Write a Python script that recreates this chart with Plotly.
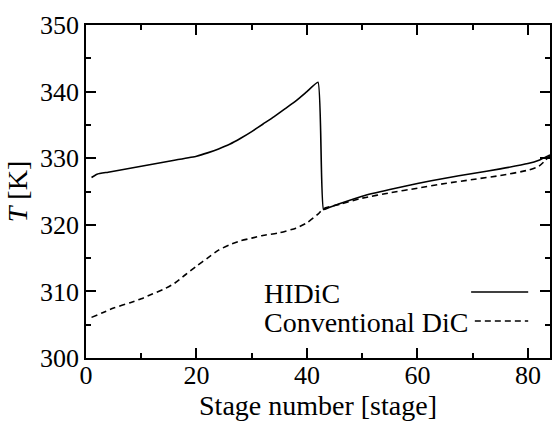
import plotly.graph_objects as go

hidic_stage = [1, 2, 4, 8, 12, 16, 20, 22, 24, 26, 28, 30, 32, 34, 36, 38, 40, 42, 43, 44, 46, 50, 55, 60,
               65, 70, 75, 80, 82, 84]
hidic_T = [327.1, 327.6, 327.9, 328.5, 329.1, 329.7, 330.3, 330.8, 331.4, 332.1, 333.0, 334.0, 335.1,
           336.2, 337.4, 338.6, 340.0, 341.4, 322.3, 322.6, 323.2, 324.3, 325.3, 326.2, 327.0, 327.7,
           328.4, 329.2, 329.7, 330.5]

conv_stage = [1, 3, 5, 8, 10, 12, 14, 16, 18, 20, 22, 24, 26, 28, 30, 32, 35, 38, 40, 42, 43, 46, 50,
              55, 60, 65, 70, 75, 80, 82, 84]
conv_T = [306.1, 306.8, 307.5, 308.3, 308.9, 309.6, 310.3, 311.2, 312.5, 313.8, 315.0, 316.2, 317.0,
          317.6, 318.0, 318.4, 318.8, 319.5, 320.3, 321.6, 322.4, 323.1, 324.0, 324.8, 325.5, 326.2,
          326.8, 327.4, 328.2, 328.8, 330.4]

legend_labels = ["HIDiC", "Conventional DiC"]

FONT = "Liberation Serif, Times New Roman, serif"

fig = go.Figure()
fig.add_trace(go.Scatter(x=hidic_stage, y=hidic_T, mode="lines", name=legend_labels[0],
                         line=dict(color="black", width=1.6, shape="spline", smoothing=0.4)))
fig.add_trace(go.Scatter(x=conv_stage, y=conv_T, mode="lines", name=legend_labels[1],
                         line=dict(color="black", width=1.6, dash="6px,4px", shape="spline", smoothing=0.6)))

axis_common = dict(
    showgrid=False, zeroline=False, showline=True, linecolor="black", linewidth=1.5,
    mirror="ticks", ticks="inside", tickcolor="black", tickwidth=1.5, ticklen=10,
    tickfont=dict(family=FONT, size=26, color="black"),
)
fig.update_xaxes(range=[0, 84], dtick=20, tick0=0, ticklabelstandoff=-7,
                 minor=dict(dtick=10, ticks="inside", ticklen=5, tickcolor="black", tickwidth=1.5),
                 title=dict(text="Stage number [stage]", font=dict(family=FONT, size=28, color="black"),
                            standoff=6),
                 **axis_common)
fig.update_yaxes(range=[300, 350], dtick=10, tick0=300,
                 minor=dict(dtick=5, ticks="inside", ticklen=5, tickcolor="black", tickwidth=1.5),
                 title=dict(text="<i>T</i> [K]", font=dict(family=FONT, size=28, color="black"),
                            standoff=4),
                 **axis_common)

# legend drawn with text on the left and line sample on the right
leg_y = [0.195, 0.108]
for lab, yy in zip(legend_labels, leg_y):
    fig.add_annotation(x=0.38, y=yy, xref="paper", yref="paper", text=lab, showarrow=False,
                       xanchor="left", yanchor="middle", font=dict(family=FONT, size=28, color="black"))
fig.add_shape(type="line", xref="paper", yref="paper", x0=0.830, x1=0.953, y0=leg_y[0] + 0.003,
              y1=leg_y[0] + 0.003, line=dict(color="black", width=1.6))
fig.add_shape(type="line", xref="paper", yref="paper", x0=0.838, x1=0.953, y0=leg_y[1] + 0.003,
              y1=leg_y[1] + 0.003, line=dict(color="black", width=1.6, dash="6px,4px"))

fig.update_layout(
    width=553, height=423, showlegend=False,
    margin=dict(l=86, r=1, t=25, b=65),
    paper_bgcolor="white", plot_bgcolor="white",
    font=dict(family=FONT, color="black"),
)
fig.write_html("out.html", config={"displayModeBar": False},
               post_script="document.body.style.margin='0';document.body.style.overflow='hidden';")
